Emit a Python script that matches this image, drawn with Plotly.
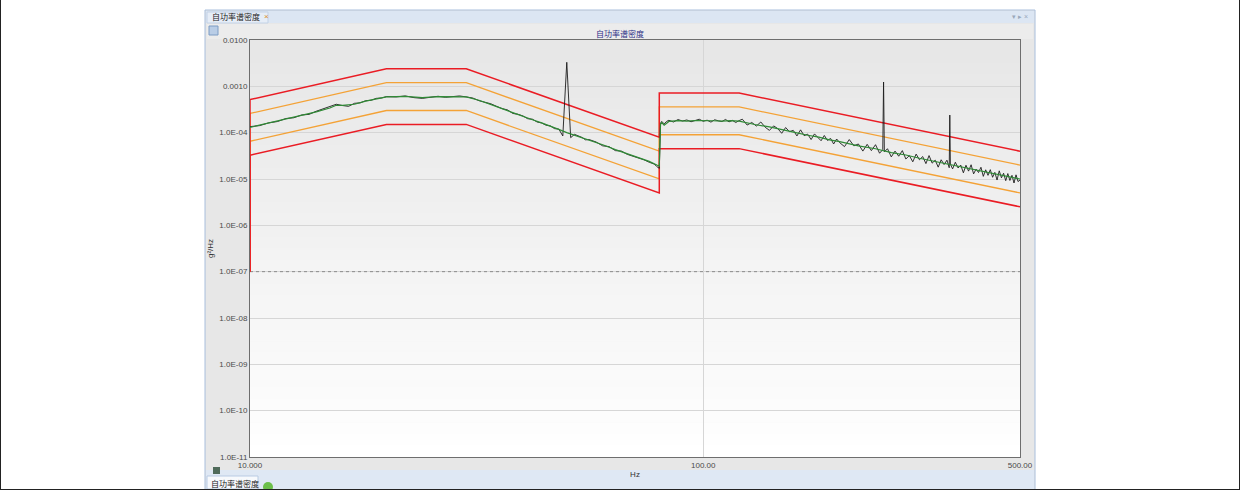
import plotly.graph_objects as go

# ---- reference profile breakpoints (Hz, g^2/Hz) ----
PROFILE_HZ = [10, 20, 30, 80, 80, 120, 500]
PROFILE_PSD = [1.3e-4, 6.0e-4, 6.0e-4, 2.0e-5, 1.8e-4, 1.8e-4, 1.0e-5]
ALARM_DB = 3     # orange lines
ABORT_DB = 6     # red lines
START_PSD = 1e-7  # limit lines rise from this level at the first frequency
MARK_LEVEL = 1e-7  # dotted level line

# ---- control spectrum (green) ----
CONTROL_HZ = [10, 11, 12, 13, 14, 15, 15.5, 16, 17, 18, 19, 20, 22, 24, 26, 28, 30,
              32, 34, 36, 38, 40, 42, 44, 46, 48, 50, 53, 56, 60, 64, 68, 72, 76, 79, 80,
              80.5, 81, 82, 84, 88, 92, 96, 100, 105, 110, 115, 120,
              130, 140, 150, 160, 170, 180, 190, 200, 220, 240, 260, 280, 300,
              320, 340, 360, 380, 400, 420, 440, 460, 480, 500]
CONTROL_PSD = [1.3e-4, 1.6e-4, 1.95e-4, 2.35e-4, 2.8e-4, 3.4e-4, 3.9e-4, 3.9e-4, 4.1e-4, 4.8e-4,
               5.4e-4, 5.9e-4, 6.1e-4, 5.7e-4, 6.0e-4, 5.9e-4, 5.9e-4,
               5.0e-4, 4.1e-4, 3.3e-4, 2.7e-4, 2.3e-4, 1.9e-4, 1.63e-4, 1.4e-4, 1.18e-4, 1.0e-4,
               8.3e-5, 7.0e-5, 5.5e-5, 4.3e-5, 3.5e-5, 2.9e-5, 2.4e-5, 2.0e-5, 1.9e-5,
               1.5e-4, 1.65e-4, 1.45e-4, 1.75e-4, 1.82e-4, 1.78e-4, 1.83e-4, 1.79e-4, 1.81e-4,
               1.77e-4, 1.82e-4, 1.78e-4,
               1.5e-4, 1.33e-4, 1.13e-4, 1.0e-4, 8.8e-5, 8.0e-5, 7.0e-5, 6.4e-5, 5.2e-5, 4.5e-5,
               3.7e-5, 3.3e-5, 2.8e-5, 2.45e-5, 2.2e-5, 1.93e-5, 1.75e-5, 1.55e-5, 1.43e-5,
               1.28e-5, 1.19e-5, 1.08e-5, 1.0e-5]

# ---- measured spectrum (black) ----
MEAS_HZ = [10, 10.5, 11, 11.5, 12, 12.5, 13, 13.5, 14, 14.5, 15, 15.5, 16, 16.5, 17, 17.5,
           18, 18.5, 19, 19.5, 20,
           21, 22, 23, 24, 25, 26, 27, 28, 29, 30,
           31, 32, 33, 34, 35, 36, 37, 38, 39, 40, 41, 42, 43, 44, 45, 46, 47, 48, 49, 50, 51,
           52, 54, 55, 56, 58, 60, 62, 64, 66, 68, 70, 72, 74, 76, 78, 79, 80,
           80.5, 81, 82, 83,
           84, 86, 88, 90, 92, 94, 96, 98, 100, 102, 104, 106, 108, 110, 112, 114, 116, 118, 120,
           122, 125, 128, 131, 134, 137, 140, 143, 146, 149, 152, 155, 158, 161, 164, 167,
           170, 173, 176, 179, 182, 185, 188, 191, 194, 197, 200,
           205, 210, 215, 220, 225, 230, 235, 240, 245, 249, 250, 251, 255, 260, 265, 270,
           275, 280, 285, 290, 295, 300, 305, 310, 315, 320, 325, 330, 335, 340, 345, 349,
           350, 351, 355, 360, 365, 370, 375, 380, 385, 390, 395, 400, 405, 410, 415, 420,
           425, 430, 435, 440, 445, 450, 455, 460, 465, 470, 475, 480, 485, 490, 495, 500]
MEAS_PSD = [1.35e-4, 1.42e-4, 1.63e-4, 1.74e-4, 2.02e-4, 2.10e-4, 2.41e-4, 2.48e-4, 2.90e-4,
            3.30e-4, 3.60e-4, 4.10e-4, 3.85e-4, 3.70e-4, 4.30e-4, 4.40e-4, 4.90e-4, 5.00e-4,
            5.50e-4, 5.60e-4, 6.00e-4,
            5.9e-4, 6.2e-4, 5.7e-4, 5.5e-4, 5.9e-4, 6.1e-4, 5.8e-4, 6.0e-4, 6.2e-4, 5.9e-4,
            5.6e-4, 4.9e-4, 4.6e-4, 4.2e-4, 3.7e-4, 3.3e-4, 3.1e-4, 2.6e-4, 2.5e-4, 2.3e-4,
            2.0e-4, 1.95e-4, 1.7e-4, 1.62e-4, 1.45e-4, 1.40e-4, 1.22e-4, 1.20e-4, 8.5e-5,
            3.3e-3, 7.8e-5,
            9.2e-5, 7.9e-5, 7.0e-5, 7.1e-5, 6.3e-5, 5.2e-5, 5.0e-5, 4.1e-5, 4.0e-5, 3.4e-5,
            3.1e-5, 2.9e-5, 2.6e-5, 2.3e-5, 2.1e-5, 1.85e-5, 1.7e-5,
            1.6e-4, 1.75e-4, 1.55e-4, 1.75e-4,
            1.85e-4, 1.70e-4, 1.92e-4, 1.78e-4, 1.88e-4, 1.72e-4, 1.83e-4, 1.95e-4, 1.76e-4,
            1.86e-4, 1.69e-4, 1.90e-4, 1.80e-4, 1.74e-4, 1.93e-4, 1.71e-4, 1.84e-4, 1.66e-4,
            1.82e-4,
            1.95e-4, 1.46e-4, 1.66e-4, 1.39e-4, 1.70e-4, 1.31e-4, 1.12e-4, 1.40e-4, 1.23e-4,
            9.7e-5, 1.29e-4, 1.05e-4, 1.12e-4, 8.5e-5, 1.15e-4, 8.6e-5,
            9.3e-5, 7.1e-5, 9.4e-5, 7.9e-5, 6.7e-5, 8.7e-5, 6.8e-5, 7.5e-5, 5.7e-5, 7.3e-5,
            6.1e-5,
            5.0e-5, 7.1e-5, 5.2e-5, 5.7e-5, 4.0e-5, 5.6e-5, 4.1e-5, 5.5e-5, 3.6e-5, 4.3e-5,
            1.24e-3, 3.85e-5, 4.5e-5, 3.0e-5, 4.0e-5, 3.1e-5,
            4.1e-5, 2.7e-5, 3.2e-5, 2.35e-5, 3.45e-5, 2.6e-5, 3.05e-5, 2.15e-5, 3.2e-5, 2.2e-5,
            2.55e-5, 1.8e-5, 2.6e-5, 2.05e-5, 2.55e-5, 1.75e-5,
            2.4e-4, 2.1e-5, 1.65e-5, 2.3e-5, 1.73e-5, 2.0e-5, 1.36e-5, 1.98e-5, 1.48e-5,
            2.03e-5, 1.29e-5, 1.63e-5, 1.38e-5, 1.79e-5, 1.14e-5, 1.58e-5,
            1.2e-5, 1.59e-5, 1.09e-5, 1.39e-5, 9.5e-6, 1.5e-5, 1.06e-5, 1.33e-5, 9.2e-6,
            1.31e-5, 9.3e-6, 1.2e-5, 8.2e-6, 1.23e-5, 8.8e-6, 9.5e-6]

# ---- axes ----
X_TICKS = [10, 100, 500]
X_TICKTEXT = ["10.000", "100.00", "500.00"]
Y_TICKS = [1e-11, 1e-10, 1e-9, 1e-8, 1e-7, 1e-6, 1e-5, 1e-4, 1e-3, 1e-2]
Y_TICKTEXT = ["1.0E-11", "1.0E-10", "1.0E-09", "1.0E-08", "1.0E-07", "1.0E-06",
              "1.0E-05", "1.0E-04", "0.0010", "0.0100"]

TITLE = "自功率谱密度"
TAB_TEXT = "自功率谱密度"
BOTTOM_TAB = "自功率谱密度"

W, H = 1240, 490
PL, PR, PT, PB = 250, 1020, 40, 457  # plot area in pixels

RED = "#ea1c24"
ORANGE = "#f4a236"
GREEN = "#2f8a35"
BLACK = "#1c1c1c"
CJK = "Noto Sans CJK SC"
LAT = "Liberation Sans, Arial"


def px(x):
    return (x - PL) / (PR - PL)


def py(y):
    return (PB - y) / (PB - PT)


def rect(x0, y0, x1, y1, fill, line=None, lw=1):
    return dict(type="rect", xref="paper", yref="paper", layer="below",
                x0=px(x0), x1=px(x1), y0=py(y1), y1=py(y0), fillcolor=fill,
                line=dict(color=line or fill, width=lw if line else 0))


def label(text, x, y, size=8, color="#222", family=CJK, xanchor="center"):
    return dict(text=text, x=px(x), y=py(y), xref="paper", yref="paper", showarrow=False,
                xanchor=xanchor, yanchor="middle", font=dict(family=family, size=size, color=color))


def limit_line(db):
    # tolerance line = profile shifted by db, starting from START_PSD at first frequency
    fac = 10 ** (db / 10)
    return [PROFILE_HZ[0]] + PROFILE_HZ, [START_PSD] + [p * fac for p in PROFILE_PSD]


fig = go.Figure()

fig.add_trace(go.Scatter(x=[X_TICKS[0], X_TICKS[-1]], y=[MARK_LEVEL, MARK_LEVEL], mode="lines",
                         line=dict(color="#8a8a8a", width=1, dash="dot")))

for db, color, width in [(ALARM_DB, ORANGE, 1.3), (-ALARM_DB, ORANGE, 1.3),
                         (ABORT_DB, RED, 1.5), (-ABORT_DB, RED, 1.5)]:
    hz, psd = limit_line(db)
    fig.add_trace(go.Scatter(x=hz, y=psd, mode="lines", line=dict(color=color, width=width)))

fig.add_trace(go.Scatter(x=MEAS_HZ, y=MEAS_PSD, mode="lines", line=dict(color=BLACK, width=0.9)))
fig.add_trace(go.Scatter(x=CONTROL_HZ, y=CONTROL_PSD, mode="lines", line=dict(color=GREEN, width=1.2)))

# ---- window chrome ----
shapes = [
    rect(205, 10, 1035, 490, "#e7e7e7", "#a8bedc"),
    rect(206, 11, 1034, 23, "#dce6f3"),
    rect(207, 12, 268, 23, "#e6edf7", "#c3d2e6"),
    rect(207, 24, 1033, 39, "#ececec"),
    rect(206, 470, 1034, 489, "#dfe8f4"),
    rect(207, 476, 258, 489, "#f7f9fc", "#b9cbe3"),
    rect(209, 26, 218, 35, "#b9cde6", "#7d9cc4"),
    rect(213, 467, 220, 474, "#4f6a5a"),
    dict(type="circle", xref="paper", yref="paper", layer="below",
         x0=px(263), x1=px(273), y0=py(492), y1=py(482), fillcolor="#6cbf4a",
         line=dict(width=0)),
]
# plot background gradient (grey at top to white at bottom)
n_bands = 36
for i in range(n_bands):
    t = i / (n_bands - 1)
    c = int(231 + (255 - 231) * t)
    y0 = PT + i * (PB - PT) / n_bands
    y1 = PT + (i + 1) * (PB - PT) / n_bands + 0.5
    shapes.append(rect(PL, y0, PR, min(y1, PB), f"rgb({c},{c},{c})"))
# outer picture border
for x0, y0, x1, y1 in [(0.5, 0, 0.5, 490), (1239.5, 0, 1239.5, 490), (0, 489.5, 1240, 489.5)]:
    shapes.append(dict(type="line", xref="paper", yref="paper", layer="below",
                       x0=px(x0), x1=px(x1), y0=py(y0), y1=py(y1),
                       line=dict(color="#222", width=1)))

annotations = [
    label(TITLE, 620, 33, color="#2b2f86"),
    label(TAB_TEXT, 210, 17, xanchor="left"),
    label("×", 262, 17, color="#d98a1c", family=LAT, xanchor="left"),
    label("▾ ▸ ×", 1030, 17, size=7, color="#9aa8bb", family=LAT, xanchor="right"),
    label(BOTTOM_TAB, 209, 483, xanchor="left"),
]

fig.update_layout(
    width=W, height=H,
    margin=dict(l=PL, r=W - PR, t=PT, b=H - PB),
    paper_bgcolor="white", plot_bgcolor="rgba(0,0,0,0)",
    showlegend=False, hovermode=False,
    shapes=shapes, annotations=annotations,
    font=dict(family=LAT, size=8, color="#4a4a4a"),
)
fig.update_xaxes(type="log", range=[1, 2.69897], tickvals=X_TICKS, ticktext=X_TICKTEXT,
                 showgrid=True, gridcolor="#d6d6d6", gridwidth=1, zeroline=False,
                 showline=True, linecolor="#6e6e6e", linewidth=1, mirror=True, ticks="",
                 tickfont=dict(size=8, color="#4a4a4a"),
                 title=dict(text="Hz", standoff=2, font=dict(size=8, color="#333")))
fig.update_yaxes(type="log", range=[-11, -2], tickvals=Y_TICKS, ticktext=Y_TICKTEXT,
                 showgrid=True, gridcolor="#d6d6d6", gridwidth=1, zeroline=False,
                 showline=True, linecolor="#6e6e6e", linewidth=1, mirror=True, ticks="",
                 tickfont=dict(size=8, color="#4a4a4a"),
                 title=dict(text="g²/Hz", standoff=4, font=dict(size=8, color="#333")))

# the page body has a default 8px margin; drop it so the figure sits at the top-left corner
fig.write_html("out.html", config={"displayModeBar": False},
               post_script="document.body.style.margin='0';")
